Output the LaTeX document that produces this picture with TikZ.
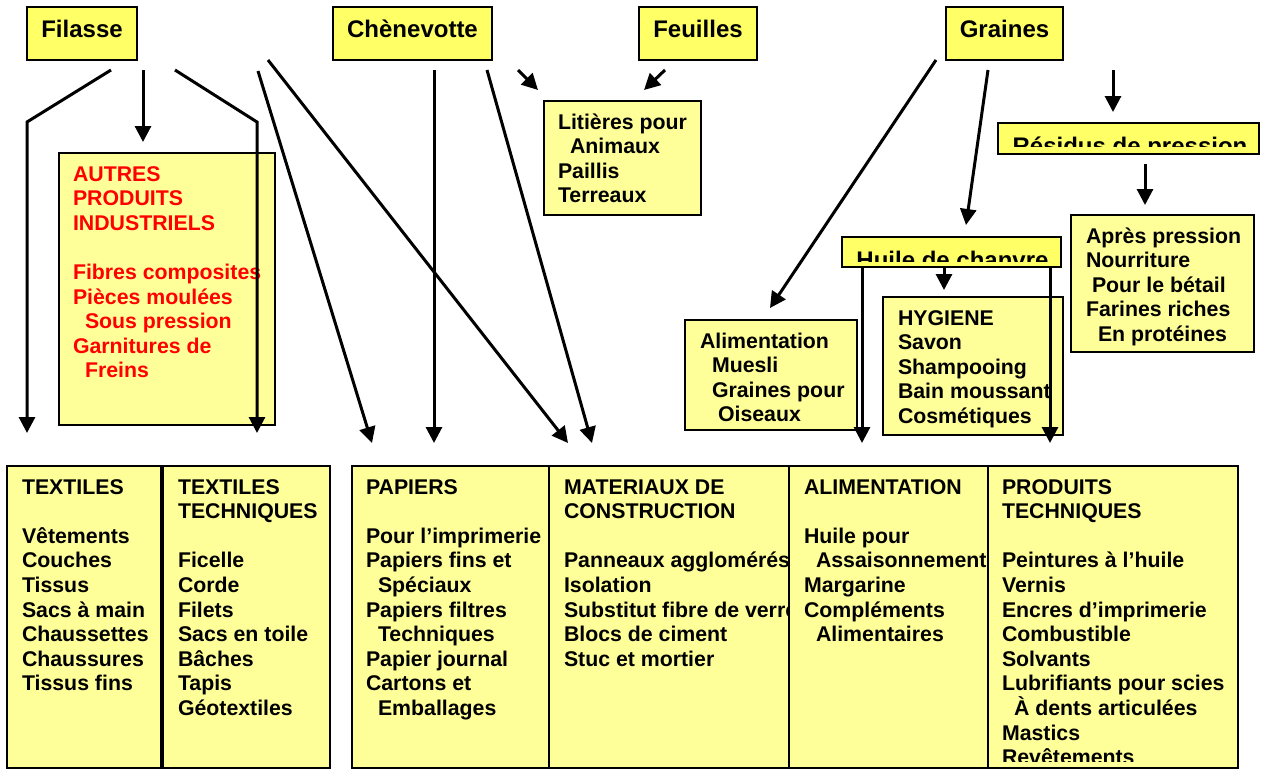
\documentclass[tikz,border=0pt]{standalone}
\usepackage{fontspec}
\setmainfont{Liberation Sans}
\usetikzlibrary{calc,arrows.meta}

\definecolor{paleyellow}{HTML}{FFFF99}
\definecolor{lemon}{HTML}{FFFF66}

\newcommand{\itemfont}{\fontsize{21.3}{24.6}\selectfont\bfseries}
\newcommand{\labelfont}{\fontsize{24}{28}\selectfont\bfseries}
\newcommand{\indnt}{\hspace*{12pt}}
\newcommand{\boxlist}[1]{\begin{tabular}[t]{@{}l@{}}#1\end{tabular}}

\tikzset{
  source/.style={draw, line width=1.5pt, fill=lemon, font=\labelfont,
    text height=17.5pt, text depth=10pt},
  panel/.style={draw, line width=1.5pt, fill=paleyellow, anchor=north west},
  listing/.style={anchor=base west, font=\itemfont},
  link/.style={line width=3pt, -{Triangle[length=16pt,width=16pt]}},
}

\begin{document}
\begin{tikzpicture}[x=1pt, y=-1pt, inner sep=0pt, outer sep=0pt]
    \useasboundingbox (0,0) rectangle (1264,769);

    % raw materials
    \node[source, minimum width=110pt, minimum height=53pt] (filasse) at (82,33.5) {Filasse};
    \node[source, minimum width=159pt, minimum height=53pt] (chenevotte) at (412.5,33.5) {Chènevotte};
    \node[source, minimum width=118pt, minimum height=53pt] (feuilles) at (698,33.5) {Feuilles};
    \node[source, minimum width=117pt, minimum height=53pt] (graines) at (1004.5,33.5) {Graines};

    % intermediate boxes
    \node[panel, minimum width=216pt, minimum height=272pt] (autres) at (59,153) {};
    \node[listing, text=red] (autres_txt) at ($(autres.north west)+(14,28)$)
    {\boxlist{AUTRES\\ PRODUITS\\ INDUSTRIELS\\ \\ Fibres composites\\ Pièces moulées\\
      \indnt Sous pression\\ Garnitures de\\ \indnt Freins}};

    \node[panel, minimum width=157pt, minimum height=114pt] (litieres) at (544,101) {};
    \node[listing] (litieres_txt) at ($(litieres.north west)+(14,28)$)
    {\boxlist{Litières pour\\ \indnt Animaux\\ Paillis\\ Terreaux}};

    \node[panel, fill=lemon, minimum width=261pt, minimum height=31pt] (residus) at (998,123) {};
    \begin{scope}
      \clip ($(residus.north west)+(2,2)$) rectangle ($(residus.south east)+(-2,-8)$);
      \node[anchor=base, font=\labelfont] (residus_txt) at ($(residus.south)+(1.5,0)$) {Résidus de pression};
    \end{scope}

    \node[panel, minimum width=183pt, minimum height=137pt] (apres) at (1071,215) {};
    \node[listing] (apres_txt) at ($(apres.north west)+(15,28)$)
    {\boxlist{Après pression\\ Nourriture\\ \hspace*{6pt}Pour le bétail\\ Farines riches\\ \indnt En protéines}};

    \node[panel, fill=lemon, minimum width=219pt, minimum height=30pt] (huile) at (842,237) {};
    \begin{scope}
      \clip ($(huile.north west)+(2,2)$) rectangle ($(huile.south east)+(-2,-6)$);
      \node[anchor=base, font=\labelfont] (huile_txt) at ($(huile.south)+(1,1)$) {Huile de chanvre};
    \end{scope}

    \node[panel, minimum width=172pt, minimum height=110pt] (alimsmall) at (685,320) {};
    \node[listing] (alimsmall_txt) at ($(alimsmall.north west)+(15,28)$)
    {\boxlist{Alimentation\\ \indnt Muesli\\ \indnt Graines pour\\ \hspace*{18pt}Oiseaux}};

    \node[panel, minimum width=180pt, minimum height=138pt] (hygiene) at (883,297) {};
    \node[listing] (hygiene_txt) at ($(hygiene.north west)+(15,28)$)
    {\boxlist{HYGIENE\\ Savon\\ Shampooing\\ Bain moussant\\ Cosmétiques}};

    % end products
    \node[panel, minimum width=154pt, minimum height=302pt] (textiles) at (7,466) {};
    \node[listing] (textiles_txt) at ($(textiles.north west)+(15,28)$)
    {\boxlist{TEXTILES\\ \\ Vêtements\\ Couches\\ Tissus\\ Sacs à main\\ Chaussettes\\ Chaussures\\ Tissus fins}};

    \node[panel, minimum width=167pt, minimum height=302pt] (textech) at (163,466) {};
    \node[listing] (textech_txt) at ($(textech.north west)+(15,28)$)
    {\boxlist{TEXTILES\\ TECHNIQUES\\ \\ Ficelle\\ Corde\\ Filets\\ Sacs en toile\\ Bâches\\ Tapis\\ Géotextiles}};

    \node[panel, minimum width=197pt, minimum height=302pt] (papiers) at (352,466) {};
    \node[listing] (papiers_txt) at ($(papiers.north west)+(14,28)$)
    {\boxlist{PAPIERS\\ \\ Pour l’imprimerie\\ Papiers fins et\\ \indnt Spéciaux\\ Papiers filtres\\
      \indnt Techniques\\ Papier journal\\ Cartons et\\ \indnt Emballages}};

    \node[panel, minimum width=240pt, minimum height=302pt] (materiaux) at (549,466) {};
    \node[listing] (materiaux_txt) at ($(materiaux.north west)+(15,28)$)
    {\boxlist{MATERIAUX DE\\ CONSTRUCTION\\ \\ Panneaux agglomérés\\ Isolation\\
      Substitut fibre de verre\\ Blocs de ciment\\ Stuc et mortier}};

    \node[panel, minimum width=199pt, minimum height=302pt] (alimentation) at (789,466) {};
    \node[listing] (alimentation_txt) at ($(alimentation.north west)+(15,28)$)
    {\boxlist{ALIMENTATION\\ \\ Huile pour\\ \indnt Assaisonnement\\ Margarine\\ Compléments\\ \indnt Alimentaires}};

    \node[panel, minimum width=250pt, minimum height=302pt] (produits) at (988,466) {};
    \begin{scope}
      \clip (produits.north west) rectangle ($(produits.south east)+(0,-7)$);
      \node[listing] (produits_txt) at ($(produits.north west)+(14,28)$)
      {\boxlist{PRODUITS\\ TECHNIQUES\\ \\ Peintures à l’huile\\ Vernis\\ Encres d’imprimerie\\
        Combustible\\ Solvants\\ Lubrifiants pour scies\\ \indnt\smash{À} dents articulées\\ Mastics\\ Revêtements}};
    \end{scope}

    % arrows from Filasse
    \draw[link] ($(filasse.south)+(29,10)$) -- ++(-84,52) -- ($(textiles.north west)+(20,-33)$);
    \draw[link] ($(filasse.south)+(61,10)$) -- ($(autres.north)+(-24,-11)$);
    \draw[link] ($(filasse.south)+(93,10)$) -- ++(82,52) -- ($(textech.north west)+(94,-33)$);
    \draw[link] ($(filasse.south)+(176,11)$) -- ($(papiers.north west)+(20,-23)$);
    \draw[link] ($(filasse.south)+(186,0)$) -- ($(materiaux.north west)+(19,-23)$);

    % arrows from Chènevotte and Feuilles
    \draw[link] ($(chenevotte.south)+(21.5,10)$) -- ($(papiers.north west)+(82,-23)$);
    \draw[link] ($(chenevotte.south)+(74.5,10)$) -- ($(materiaux.north west)+(43,-23)$);
    \draw[link] ($(chenevotte.south)+(105.5,10)$) -- ($(litieres.north west)+(-6,-11)$);
    \draw[link] ($(feuilles.south)+(-33,10)$) -- ($(litieres.north east)+(-57,-11)$);

    % arrows from Graines
    \draw[link] ($(graines.south west)+(-10,0)$) -- ($(alimsmall.north)+(-1,-12)$);
    \draw[link] ($(graines.south)+(-16.5,10)$) -- ($(huile.north)+(14.5,-12)$);
    \draw[link] ($(graines.south east)+(50,10)$) -- ($(residus.north)+(-15.5,-11)$);
    \draw[link] ($(residus.south)+(16.5,10)$) -- ($(apres.north)+(-17.5,-10)$);

    % arrows from Huile de chanvre
    \draw[link] ($(huile.south)+(-7.5,1)$) -- ($(hygiene.north)+(-29,-7)$);
    \draw[link] ($(huile.south west)+(20,1)$) -- ($(alimentation.north west)+(73,-23)$);
    \draw[link] ($(huile.south east)+(-11,1)$) -- ($(produits.north west)+(62,-23)$);

\end{tikzpicture}
\end{document}
